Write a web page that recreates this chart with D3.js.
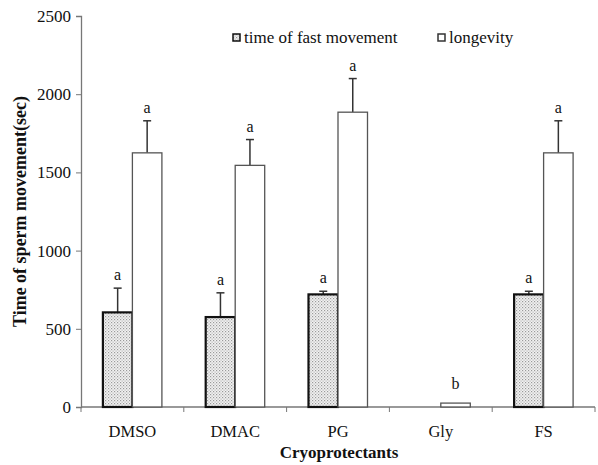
<!DOCTYPE html>
<html>
<head>
<meta charset="utf-8">
<script src="https://cdn.jsdelivr.net/npm/d3@7"></script>
<style>
  body { margin: 0; background: #fff; }
  text { font-family: "Liberation Serif", "Times New Roman", serif; fill: #111; }
</style>
</head>
<body>
<div id="chart"></div>
<script>
var categories = ["DMSO", "DMAC", "PG", "Gly", "FS"];
var fastValues = [605, 575, 720, 0, 720];
var fastErrors = [155, 155, 20, 0, 20];
var longValues = [1625, 1545, 1885, 25, 1625];
var longErrors = [205, 165, 215, 0, 205];
var fastLetters = ["a", "a", "a", "", "a"];
var longLetters = ["a", "a", "a", "b", "a"];
var yTicks = [0, 500, 1000, 1500, 2000, 2500];

var margin = {top: 16, right: 3, bottom: 58, left: 81};
var width = 598 - margin.left - margin.right;
var height = 465 - margin.top - margin.bottom;

var svg = d3.select("#chart")
  .append("svg")
  .attr("width", 598)
  .attr("height", 465);

// stipple pattern for the fast movement bars
var defs = svg.append("defs");
var pat = defs.append("pattern")
  .attr("id", "dots")
  .attr("width", 3).attr("height", 3)
  .attr("patternUnits", "userSpaceOnUse");
pat.append("rect").attr("width", 3).attr("height", 3).attr("fill", "#f2f2f2");
pat.append("rect").attr("x", 0).attr("y", 0).attr("width", 1.2).attr("height", 1.2).attr("fill", "#9a9a9a");
pat.append("rect").attr("x", 1.5).attr("y", 1.5).attr("width", 1.2).attr("height", 1.2).attr("fill", "#b5b5b5");

var g = svg.append("g")
  .attr("transform", "translate(" + margin.left + "," + margin.top + ")");

var x = d3.scaleBand().domain(categories).range([0, width]);
var y = d3.scaleLinear().domain([0, 2500]).range([height, 0]);
var barW = 29.5;

var data = categories.map(function(c, i) {
  return {cat: c, fast: fastValues[i], fastErr: fastErrors[i], fastL: fastLetters[i],
          longv: longValues[i], longErr: longErrors[i], longL: longLetters[i]};
});

// y axis
var yAxis = g.append("g")
  .call(d3.axisLeft(y).tickValues(yTicks).tickSize(5).tickPadding(5).tickFormat(d3.format("d")));
yAxis.select(".domain").attr("stroke", "#777").attr("stroke-width", 1.3);
yAxis.selectAll(".tick line").attr("stroke", "#777");
yAxis.selectAll("text").style("font-size", "17px").attr("fill", "#222");

// x axis (ticks at category boundaries)
var xg = g.append("g").attr("transform", "translate(0," + height + ")");
xg.append("line").attr("x1", 0).attr("x2", width).attr("stroke", "#777").attr("stroke-width", 1.3);
xg.selectAll("line.tk")
  .data(d3.range(categories.length + 1))
  .enter().append("line")
  .attr("class", "tk")
  .attr("x1", function(d){ return d * x.step(); })
  .attr("x2", function(d){ return d * x.step(); })
  .attr("y1", 0).attr("y2", 5)
  .attr("stroke", "#777");
xg.selectAll("text.cat")
  .data(categories)
  .enter().append("text")
  .attr("class", "cat")
  .attr("x", function(d){ return x(d) + x.bandwidth() / 2; })
  .attr("y", 30)
  .attr("text-anchor", "middle")
  .style("font-size", "16.5px")
  .text(function(d){ return d; });

var cx = function(d){ return x(d.cat) + x.bandwidth() / 2; };

// error bars (upper only) drawn first so bars cover their base
function errorBars(key, errKey, off) {
  var eb = g.selectAll("g.err-" + key)
    .data(data.filter(function(d){ return d[errKey] > 0; }))
    .enter().append("g");
  eb.append("line")
    .attr("x1", function(d){ return cx(d) + off; })
    .attr("x2", function(d){ return cx(d) + off; })
    .attr("y1", function(d){ return y(d[key]); })
    .attr("y2", function(d){ return y(d[key] + d[errKey]); })
    .attr("stroke", "#333").attr("stroke-width", 1.5);
  eb.append("line")
    .attr("x1", function(d){ return cx(d) + off - 4; })
    .attr("x2", function(d){ return cx(d) + off + 4; })
    .attr("y1", function(d){ return y(d[key] + d[errKey]); })
    .attr("y2", function(d){ return y(d[key] + d[errKey]); })
    .attr("stroke", "#333").attr("stroke-width", 1.5);
}
errorBars("fast", "fastErr", -barW / 2);
errorBars("longv", "longErr", barW / 2);

// fast movement bars
g.selectAll("rect.fast")
  .data(data.filter(function(d){ return d.fast > 0; }))
  .enter().append("rect")
  .attr("class", "fast")
  .attr("x", function(d){ return cx(d) - barW; })
  .attr("y", function(d){ return y(d.fast); })
  .attr("width", barW)
  .attr("height", function(d){ return height - y(d.fast); })
  .attr("fill", "url(#dots)")
  .attr("stroke", "#111").attr("stroke-width", 2.2);

// longevity bars
g.selectAll("rect.longv")
  .data(data)
  .enter().append("rect")
  .attr("class", "longv")
  .attr("x", function(d){ return cx(d); })
  .attr("y", function(d){ return y(d.longv); })
  .attr("width", barW)
  .attr("height", function(d){ return height - y(d.longv); })
  .attr("fill", "#fff")
  .attr("stroke", "#555").attr("stroke-width", 1.3);

// significance letters
g.selectAll("text.lf")
  .data(data.filter(function(d){ return d.fastL; }))
  .enter().append("text")
  .attr("x", function(d){ return cx(d) - barW / 2; })
  .attr("y", function(d){ return y(d.fast + d.fastErr) - 8; })
  .attr("text-anchor", "middle")
  .style("font-size", "16px")
  .text(function(d){ return d.fastL; });
g.selectAll("text.ll")
  .data(data)
  .enter().append("text")
  .attr("x", function(d){ return cx(d) + barW / 2; })
  .attr("y", function(d){ return y(d.longv + d.longErr) - (d.longErr > 0 ? 8 : 14); })
  .attr("text-anchor", "middle")
  .style("font-size", "16px")
  .text(function(d){ return d.longL; });

// axis titles
svg.append("text")
  .attr("transform", "translate(26," + (margin.top + height / 2) + ") rotate(-90)")
  .attr("text-anchor", "middle")
  .style("font-size", "18px").style("font-weight", "bold")
  .text("Time of sperm movement(sec)");
svg.append("text")
  .attr("x", 339).attr("y", 458)
  .attr("text-anchor", "middle")
  .style("font-size", "17px").style("font-weight", "bold")
  .text("Cryoprotectants");

// legend
var legend = [
  {label: "time of fast movement", fill: "url(#dots)", stroke: "#111", x: 233},
  {label: "longevity", fill: "#fff", stroke: "#333", x: 438}
];
var lg = svg.selectAll("g.legend")
  .data(legend)
  .enter().append("g")
  .attr("transform", function(d){ return "translate(" + d.x + ",34)"; });
lg.append("rect")
  .attr("width", 7).attr("height", 7)
  .attr("fill", function(d){ return d.fill; })
  .attr("stroke", function(d){ return d.stroke; }).attr("stroke-width", 1.5);
lg.append("text")
  .attr("x", 11).attr("y", 9)
  .style("font-size", "17px")
  .text(function(d){ return d.label; });
</script>
</body>
</html>
